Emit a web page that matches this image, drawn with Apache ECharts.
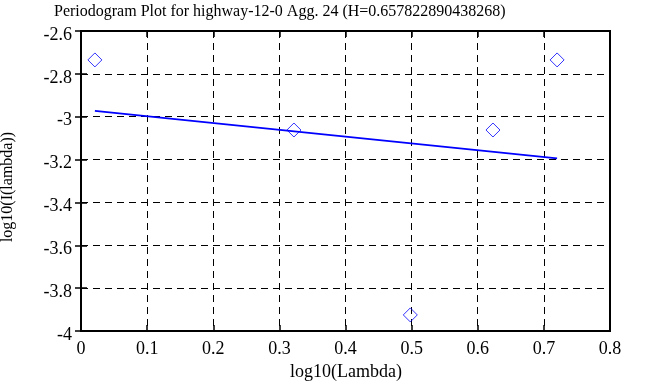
<!DOCTYPE html>
<html>
<head>
<meta charset="utf-8">
<script src="https://cdn.jsdelivr.net/npm/echarts@6/dist/echarts.min.js"></script>
<style>html,body{margin:0;padding:0;background:#fff}#c{width:668px;height:387px}</style>
</head>
<body>
<div id="c"></div>
<script>
const titleText = 'Periodogram Plot for highway-12-0 Agg. 24 (H=0.657822890438268)';
const xLabel = 'log10(Lambda)';
const yLabel = 'log10(I(lambda))';
const logLambda = [0.021, 0.322, 0.498, 0.623, 0.720];
const logI = [-2.735, -3.062, -3.925, -3.062, -2.735];
const fitX = [0.021, 0.720];
const fitY = [-2.973, -3.194];

const font = 'Liberation Serif';
const chart = echarts.init(document.getElementById('c'));
const dash = [7, 5];
chart.setOption({
  animation: false,
  backgroundColor: '#fff',
  title: {
    text: titleText, left: 49, top: -1,
    textStyle: {fontFamily: font, fontWeight: 'normal', fontSize: 16, color: '#000'}
  },
  graphic: [
    {type: 'text', x: 8, y: 187, rotation: Math.PI / 2,
     style: {text: yLabel, font: '16px "Liberation Serif"', fill: '#000', align: 'center', verticalAlign: 'middle'}},
    {type: 'text', x: 346, y: 372,
     style: {text: xLabel, font: '18px "Liberation Serif"', fill: '#000', align: 'center', verticalAlign: 'middle'}}
  ],
  grid: {left: 81, right: 58, top: 31, bottom: 56, show: true, borderColor: '#000', borderWidth: 2, backgroundColor: 'transparent'},
  xAxis: [{
    type: 'value', min: 0, max: 0.8, interval: 0.1,
    axisLine: {show: true, lineStyle: {color: '#000', width: 2}},
    axisTick: {show: true, inside: true, length: 6, lineStyle: {color: '#000', width: 1.5}},
    axisLabel: {fontFamily: font, fontSize: 18, color: '#000', margin: 9, formatter: v => String(+v.toFixed(1))},
    splitLine: {show: true, lineStyle: {color: '#000', type: dash, width: 1}}
  }, {
    type: 'value', min: 0, max: 0.8, interval: 0.1, position: 'top',
    axisLine: {show: true, lineStyle: {color: '#000', width: 2}},
    axisTick: {show: true, inside: true, length: 6, lineStyle: {color: '#000', width: 1.5}},
    axisLabel: {show: false}, splitLine: {show: false}
  }],
  yAxis: [{
    type: 'value', min: -4, max: -2.6, interval: 0.2,
    axisLine: {show: true, lineStyle: {color: '#000', width: 2}},
    axisTick: {show: true, inside: true, length: 6, lineStyle: {color: '#000', width: 1.5}},
    axisLabel: {fontFamily: font, fontSize: 18, color: '#000', margin: 9, verticalAlign: 'top', lineHeight: 8, formatter: v => String(+v.toFixed(1))},
    splitLine: {show: true, lineStyle: {color: '#000', type: dash, width: 1}}
  }, {
    type: 'value', min: -4, max: -2.6, interval: 0.2, position: 'right',
    axisLine: {show: true, lineStyle: {color: '#000', width: 2}},
    axisTick: {show: true, inside: true, length: 6, lineStyle: {color: '#000', width: 1.5}},
    axisLabel: {show: false}, splitLine: {show: false}
  }],
  series: [{
    type: 'scatter', xAxisIndex: 0, yAxisIndex: 0,
    data: logLambda.map((x, i) => [x, logI[i]]),
    symbol: 'diamond', symbolSize: [14, 14],
    itemStyle: {color: 'rgba(0,0,0,0)', borderColor: '#0000ff', borderWidth: 1}
  }, {
    type: 'line', xAxisIndex: 0, yAxisIndex: 0,
    data: fitX.map((x, i) => [x, fitY[i]]),
    showSymbol: false, symbol: 'none',
    lineStyle: {color: '#0000ff', width: 1.8}
  }]
});
</script>
</body>
</html>
